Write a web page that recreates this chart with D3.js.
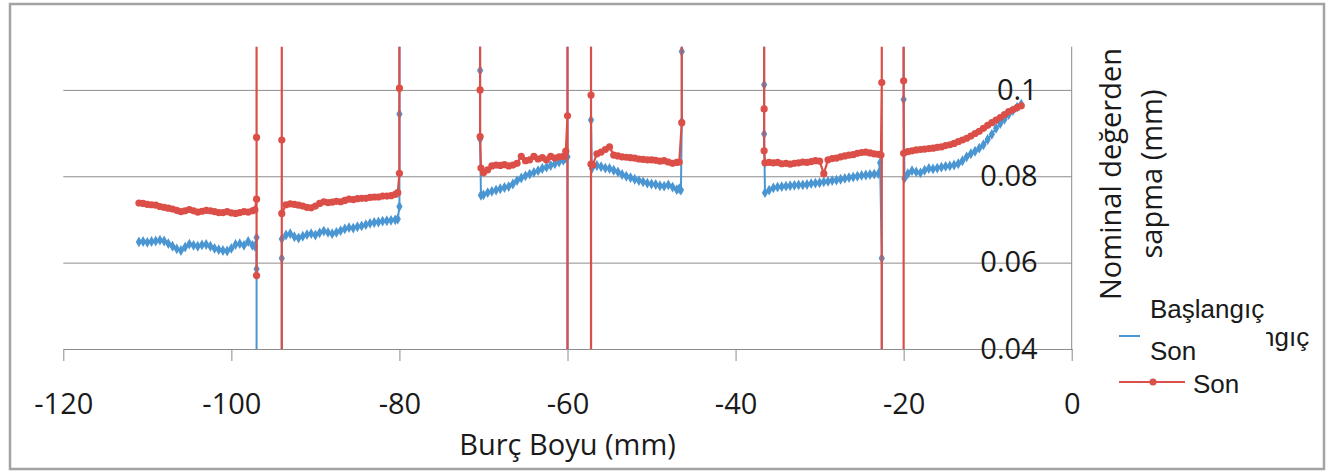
<!DOCTYPE html>
<html>
<head>
<meta charset="utf-8">
<script src="https://cdn.jsdelivr.net/npm/d3@7"></script>
<style>
  body { margin: 0; background: #fff; }
  .axis text { font-family: "Open Sans", sans-serif; font-size: 29px; fill: #1a1a1a; }
  .axis path, .axis line { stroke: #8c8c8c; }
  .grid line { stroke: #8c8c8c; }
  .grid path { display: none; }
</style>
</head>
<body>
<div class="chart"></div>
<script>
// off-scale readings (spikes that leave the chart)
const HI = 0.5, LO = -0.5;

const xTicks = [-120, -100, -80, -60, -40, -20, 0];
const yTicks = [0.04, 0.06, 0.08, 0.1];

// measured segments (mm)
const xA = [-111, -110.5, -110, -109.5, -109, -108.5, -108, -107.5, -107, -106.5, -106, -105.5, -105, -104.5, -104, -103.5, -103, -102.5, -102, -101.5, -101, -100.5, -100, -99.5, -99, -98.5, -98, -97.5];
const basA = [.0648, .0649, .0647, .0649, .0650, .0652, .0650, .0644, .0638, .0632, .0628, .0636, .0643, .0640, .0638, .0641, .0642, .0638, .0633, .0630, .0628, .0627, .0633, .0642, .0644, .0640, .0649, .0640];
const sonA = [.0738, .0737, .0735, .0734, .0733, .0730, .0728, .0726, .0724, .0721, .0718, .0720, .0723, .0720, .0717, .0719, .0721, .0720, .0718, .0716, .0716, .0718, .0715, .0714, .0716, .0718, .0717, .0720];

const xA2 = [-93.5, -93, -92.5, -92, -91.5, -91, -90.5, -90, -89.5, -89, -88.5, -88, -87.5, -87, -86.5, -86, -85.5, -85, -84.5, -84, -83.5, -83, -82.5, -82, -81.5, -81, -80.5];
const basA2 = [.0664, .0667, .0660, .0657, .0661, .0665, .0667, .0664, .0669, .0673, .0670, .0667, .0670, .0674, .0678, .0681, .0680, .0683, .0685, .0688, .0691, .0693, .0694, .0696, .0697, .0698, .0699];
const sonA2 = [.0734, .0736, .0735, .0733, .0731, .0728, .0727, .0731, .0737, .0741, .0739, .0740, .0742, .0741, .0744, .0747, .0746, .0748, .0749, .0749, .0751, .0752, .0752, .0754, .0754, .0755, .0758];

const xB = [-70, -69.5, -69, -68.5, -68, -67.5, -67, -66.5, -66, -65.5, -65, -64.5, -64, -63.5, -63, -62.5, -62, -61.5, -61, -60.5];
const basB = [.0757, .0762, .0765, .0768, .0771, .0774, .0776, .0782, .0790, .0796, .0801, .0805, .0809, .0813, .0818, .0821, .0825, .0829, .0833, .0837];
const sonB = [.0808, .0815, .0824, .0826, .0825, .0827, .0824, .0826, .0830, .0846, .0836, .0838, .0846, .0840, .0843, .0838, .0846, .0842, .0845, .0846];

const xC = [-56.5, -56, -55.5, -55, -54.5, -54, -53.5, -53, -52.5, -52, -51.5, -51, -50.5, -50, -49.5, -49, -48.5, -48, -47.5, -47];
const basC = [.0825, .0822, .0819, .0818, .0814, .0810, .0804, .0800, .0797, .0793, .0790, .0787, .0784, .0782, .0781, .0778, .0777, .0780, .0775, .0769];
const sonC = [.0852, .0856, .0862, .0868, .0849, .0847, .0845, .0844, .0843, .0842, .0840, .0839, .0838, .0838, .0837, .0835, .0836, .0833, .0830, .0832];

const xD = [-36, -35.5, -35, -34.5, -34, -33.5, -33, -32.5, -32, -31.5, -31, -30.5, -30, -29.5, -29, -28.5, -28, -27.5, -27, -26.5, -26, -25.5, -25, -24.5, -24, -23.5, -23];
const basD = [.0768, .0773, .0775, .0776, .0777, .0778, .0779, .0780, .0780, .0781, .0783, .0784, .0785, .0787, .0788, .0790, .0791, .0793, .0795, .0797, .0798, .0800, .0802, .0803, .0804, .0805, .0806];
const sonD = [.0832, .0831, .0832, .0829, .0830, .0828, .0830, .0831, .0833, .0832, .0834, .0836, .0835, .0806, .0838, .0841, .0842, .0845, .0847, .0849, .0850, .0853, .0855, .0856, .0854, .0852, .0851];

const xE = [-19.5, -19, -18.5, -18, -17.5, -17, -16.5, -16, -15.5, -15, -14.5, -14, -13.5, -13, -12.5, -12, -11.5, -11, -10.5, -10, -9.5, -9, -8.5, -8, -7.5, -7, -6.5, -6];
const basE = [.0806, .0813, .0810, .0808, .0814, .0818, .0817, .0819, .0821, .0823, .0824, .0826, .0829, .0836, .0845, .0852, .0858, .0865, .0873, .0885, .0897, .0911, .0922, .0932, .0943, .0952, .0960, .0967];
const sonE = [.0857, .0859, .0861, .0862, .0863, .0864, .0865, .0867, .0868, .0871, .0873, .0876, .0880, .0884, .0888, .0893, .0899, .0904, .0911, .0918, .0924, .0930, .0936, .0943, .0950, .0954, .0959, .0963];

// jumps at the segment edges, [x, y]
const basJ97 = [[-97.2, .0638], [-97.0, .0658], [-97.0, .0585], [-97.0, LO]];
const basJ94 = [[-94.0, LO], [-94.0, .0610], [-94.0, .0655]];
const basJ80 = [[-80.2, .0701], [-80.0, .0730], [-80.0, .0944], [-80.0, HI]];
const basJ70 = [[-70.4, HI], [-70.4, .1045], [-70.4, .0886], [-70.3, .0756]];
const basJ60 = [[-60.2, .0842], [-60.0, .0845], [-60.0, HI], [-60.0, LO]];
const basJ57 = [[-57.2, LO], [-57.2, HI], [-57.2, .0930], [-57.1, .0818]];
const basJ46 = [[-46.7, .0771], [-46.5, .0768], [-46.4, .0926], [-46.4, .1089], [-46.4, HI]];
const basJ36 = [[-36.6, HI], [-36.6, .1012], [-36.6, .0898], [-36.5, .0762]];
const basJ22 = [[-22.8, .0831], [-22.6, .0610], [-22.6, LO]];
const basJ20 = [[-20.0, HI], [-20.0, .0978], [-19.9, .0795]];

const sonJ97 = [[-97.2, .0722], [-97.0, .0747], [-97.0, .0890], [-97.0, HI], [-97.0, .0570]];
const sonJ94 = [[-94.0, LO], [-94.0, HI], [-94.0, .0884], [-94.0, .0714]];
const sonJ80 = [[-80.2, .0762], [-80.0, .0807], [-80.0, .1004], [-80.0, HI]];
const sonJ70 = [[-70.4, HI], [-70.4, .1000], [-70.4, .0892], [-70.3, .0819]];
const sonJ60 = [[-60.2, .0858], [-60.0, .0940], [-60.0, HI], [-60.0, LO]];
const sonJ57 = [[-57.2, LO], [-57.2, HI], [-57.2, .0988], [-57.2, .0828], [-57.0, .0826]];
const sonJ46 = [[-46.7, .0833], [-46.4, .0924], [-46.4, HI]];
const sonJ36 = [[-36.6, HI], [-36.6, .0956], [-36.6, .0859], [-36.5, .0831]];
const sonJ22 = [[-22.7, .0849], [-22.6, .1017], [-22.6, HI], [-22.6, LO]];
const sonJ20 = [[-20.0, LO], [-20.0, HI], [-20.0, .1021], [-20.0, .0853]];

const pts = (xs, ys) => xs.map((x, i) => [x, ys[i]]);

const basLine = [
  ...pts(xA, basA), ...basJ97, null,
  ...basJ94, ...pts(xA2, basA2), ...basJ80, null,
  ...basJ70, ...pts(xB, basB), ...basJ60, null,
  ...basJ57, ...pts(xC, basC), ...basJ46, null,
  ...basJ36, ...pts(xD, basD), ...basJ22, null,
  ...basJ20, ...pts(xE, basE)
];
const sonLine = [
  ...pts(xA, sonA), ...sonJ97, null,
  ...sonJ94, ...pts(xA2, sonA2), ...sonJ80, null,
  ...sonJ70, ...pts(xB, sonB), ...sonJ60, null,
  ...sonJ57, ...pts(xC, sonC), ...sonJ46, null,
  ...sonJ36, ...pts(xD, sonD), ...sonJ22, null,
  ...sonJ20, ...pts(xE, sonE)
];

const blue = '#4a96d2', red = '#db4f48';

const W = 1328, H = 471;
const pLeft = 63.3, pRight = 1071.7, pTop = 46.7, pBottom = 349;

const svg = d3.select('.chart').append('svg')
  .attr('width', W)
  .attr('height', H);

svg.append('rect')
  .attr('x', 10).attr('y', 4)
  .attr('width', 1314).attr('height', 465)
  .attr('fill', '#fff')
  .attr('stroke', '#a3a3a3')
  .attr('stroke-width', 2.5);

const xScale = d3.scaleLinear().domain([-120, 0]).range([pLeft, pRight]);
const yScale = d3.scaleLinear().domain([0.04, 0.11]).range([pBottom, pTop]);

// grid
svg.append('g')
  .attr('class', 'grid')
  .attr('transform', `translate(${pRight},0)`)
  .call(d3.axisLeft(yScale).tickValues([0.06, 0.08, 0.1]).tickSize(pRight - pLeft).tickFormat(''));

svg.append('g')
  .attr('class', 'axis x-axis')
  .attr('transform', `translate(0,${pBottom})`)
  .call(d3.axisBottom(xScale).tickValues(xTicks).tickSize(12).tickSizeOuter(0).tickPadding(32).tickFormat(d => String(d)))
  .selectAll('text').attr('dy', '0.71em');

const yAx = svg.append('g')
  .attr('class', 'axis y-axis')
  .attr('transform', `translate(${pRight},0)`)
  .call(d3.axisLeft(yScale).tickValues(yTicks).tickSize(0).tickSizeOuter(0).tickPadding(34).tickFormat(d => String(d)));
yAx.select('.domain').attr('d', `M0,${pTop}V${pBottom}`);

svg.append('clipPath').attr('id', 'plot')
  .append('rect')
  .attr('x', pLeft).attr('y', pTop)
  .attr('width', pRight - pLeft).attr('height', pBottom - pTop);

const line = d3.line()
  .defined(d => d !== null)
  .x(d => xScale(d[0]))
  .y(d => yScale(d[1]));

const plot = svg.append('g').attr('clip-path', 'url(#plot)');

plot.append('path')
  .datum(basLine)
  .attr('fill', 'none')
  .attr('stroke', blue)
  .attr('stroke-width', 2)
  .attr('d', line);

plot.selectAll('.bas')
  .data(basLine.filter(d => d !== null))
  .enter()
  .append('path')
  .attr('class', 'bas')
  .attr('transform', d => `translate(${xScale(d[0])},${yScale(d[1])})`)
  .attr('d', d3.symbol(d3.symbolDiamond, 34))
  .attr('fill', blue);

plot.append('path')
  .datum(sonLine)
  .attr('fill', 'none')
  .attr('stroke', red)
  .attr('stroke-width', 2.2)
  .attr('d', line);

plot.selectAll('.son')
  .data(sonLine.filter(d => d !== null))
  .enter()
  .append('circle')
  .attr('class', 'son')
  .attr('cx', d => xScale(d[0]))
  .attr('cy', d => yScale(d[1]))
  .attr('r', 3.6)
  .attr('fill', red);

// axis titles
svg.append('text')
  .attr('x', (pLeft + pRight) / 2)
  .attr('y', 455)
  .attr('text-anchor', 'middle')
  .style('font-family', '"Open Sans", sans-serif')
  .style('font-size', '29px')
  .attr('fill', '#1a1a1a')
  .text('Burç Boyu (mm)');

[['Nominal değerden', 1121], ['sapma (mm)', 1162]].forEach(([t, bx]) => {
  svg.append('text')
    .attr('transform', `translate(${bx},174) rotate(-90)`)
    .attr('text-anchor', 'middle')
    .style('font-family', '"Open Sans", sans-serif')
    .style('font-size', '29px')
    .attr('fill', '#1a1a1a')
    .text(t);
});

// legend (two overlapping copies, as in the original)
const lg = svg.append('g')
  .style('font-family', '"Liberation Sans", Arial, sans-serif')
  .style('font-size', '26px')
  .attr('fill', '#1a1a1a');

lg.append('line')
  .attr('x1', 1119).attr('x2', 1185).attr('y1', 336).attr('y2', 336)
  .attr('stroke', blue).attr('stroke-width', 2);
lg.append('text').attr('x', 1195).attr('y', 346).text('Başlangıç');
lg.append('line')
  .attr('x1', 1119).attr('x2', 1185).attr('y1', 382).attr('y2', 382)
  .attr('stroke', red).attr('stroke-width', 2);
lg.append('circle').attr('cx', 1153).attr('cy', 382).attr('r', 3.5).attr('fill', red);
lg.append('text').attr('x', 1193).attr('y', 393).text('Son');

lg.append('rect')
  .attr('x', 1140).attr('y', 288)
  .attr('width', 126).attr('height', 87)
  .attr('fill', '#fff');
lg.append('text').attr('x', 1150).attr('y', 318).text('Başlangıç');
lg.append('text').attr('x', 1150).attr('y', 360).text('Son');
</script>
</body>
</html>
